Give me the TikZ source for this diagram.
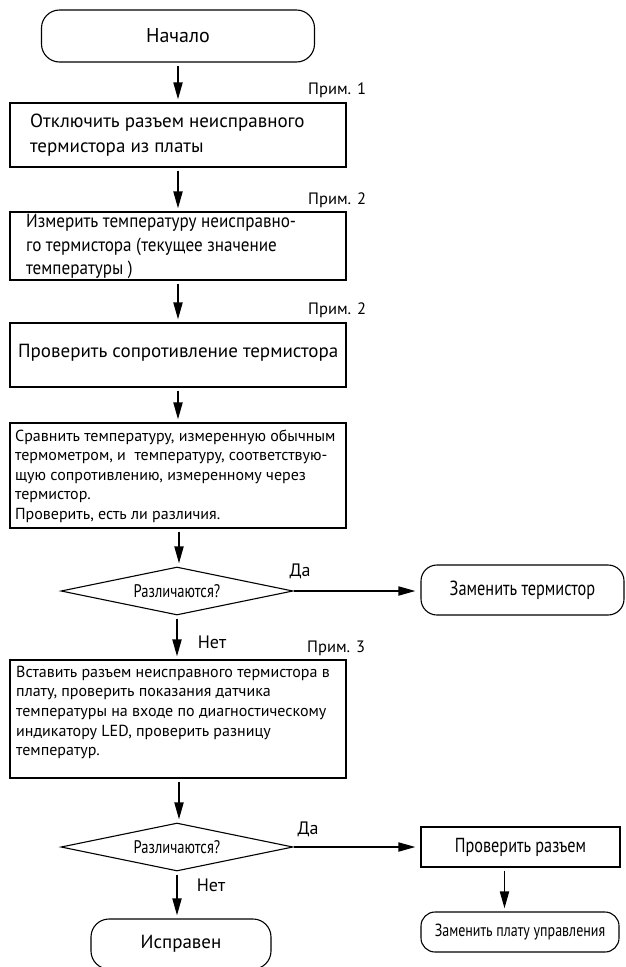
\documentclass[tikz,border=0pt]{standalone}
\usepackage{fontspec}
\setmainfont{PT Sans}
\newfontfamily\condfont[FakeStretch=0.8]{PT Sans}
\newfontfamily\semicond[FakeStretch=0.9]{PT Sans}
\usetikzlibrary{arrows.meta,shapes.geometric}
\begin{document}
\begin{tikzpicture}[x=1pt,y=-1pt,
  box/.style={draw, line width=1.1pt, rectangle, inner sep=0pt},
  term/.style={draw, line width=1.1pt, rectangle, rounded corners=18pt, inner sep=0pt},
  dec/.style={draw, line width=1.1pt, diamond, aspect=4.85, inner sep=0pt, minimum width=232pt, minimum height=48pt},
  big/.style={font=\fontsize{19}{24.3}\selectfont, align=left, inner sep=0pt},
  small/.style={font=\fontsize{16}{19.6}\selectfont, align=left, inner sep=0pt},
  note/.style={font=\fontsize{16.5}{20}\selectfont, inner sep=0pt, anchor=west},
  yn/.style={font=\fontsize{18}{20}\selectfont, inner sep=0pt},
  arr/.style={line width=1.8pt, -{Triangle[length=17pt,width=9pt]}, shorten <=3pt, shorten >=3pt}
]
\clip (0,0) rectangle (625,967);
% terminals and boxes
\node[term, minimum width=273pt, minimum height=52pt, font=\fontsize{20}{22}\selectfont] (start) at (178,36) {Начало};
\node[box, minimum width=336pt, minimum height=64pt] (b1) at (178,135) {};
\node[big, anchor=west] (t1) at (30,135) {Отключить разъем неисправного\\термистора из платы};
\node[box, minimum width=336pt, minimum height=68pt] (b2) at (178,246) {};
\node[big, anchor=west, font=\semicond\fontsize{19}{23.5}\selectfont] (t2) at (26,246.5) {Измерить температуру неисправно-\\го термистора (текущее значение\\температуры )};
\node[box, minimum width=336pt, minimum height=64pt] (b3) at (178,355) {};
\node[big, anchor=west] (t3) at (18,353) {Проверить сопротивление термистора};
\node[box, minimum width=336pt, minimum height=105pt] (b4) at (178,475.5) {};
\node[small, anchor=west] (t4) at (15,476) {Сравнить температуру, измеренную обычным\\термометром, и\ \ температуру, соответствую-\\щую сопротивлению, измеренному через\\термистор.\\Проверить, есть ли различия.};
\node[dec, font=\condfont\fontsize{18.2}{20}\selectfont] (d1) at (177,591) {Различаются?};
\node[term, rounded corners=16pt, minimum width=203pt, minimum height=50pt, font=\condfont\fontsize{20.4}{22}\selectfont] (rt) at (522.5,590) {Заменить термистор};
\node[box, minimum width=336pt, minimum height=118pt] (b5) at (178,719) {};
\node[small, anchor=west] (t5) at (16,712.5) {Вставить разъем неисправного термистора в\\плату, проверить показания датчика\\температуры на входе по диагностическому\\индикатору LED, проверить разницу\\температур.};
\node[dec, font=\condfont\fontsize{18.2}{20}\selectfont] (d2) at (177,847) {Различаются?};
\node[box, minimum width=199pt, minimum height=40pt, font=\condfont\fontsize{20.3}{22}\selectfont] (chk) at (520.5,847) {Проверить разъем};
\node[term, rounded corners=14pt, minimum width=198pt, minimum height=40pt, font=\condfont\fontsize{17.5}{19}\selectfont] (rb) at (520,932) {Заменить плату управления};
\node[term, minimum width=180pt, minimum height=50pt, font=\fontsize{19}{21}\selectfont] (ok) at (181,944) {Исправен};
% notes
\node[note] (n1) at (308,90) {Прим. 1};
\node[note] (n2) at (308,200) {Прим. 2};
\node[note] (n3) at (308,310) {Прим. 2};
\node[note] (n4) at (307,648) {Прим. 3};
\node[yn] (y1) at (300,571) {Да};
\node[yn] (y2) at (308,829) {Да};
\node[yn] (no1) at (212,642) {Нет};
\node[yn] (no2) at (211,885) {Нет};
% connectors
\draw[arr] (start) -- (b1);
\draw[arr] (b1) -- (b2);
\draw[arr] (b2) -- (b3);
\draw[arr] (b3) -- (b4);
\draw[arr] ([xshift=1pt]b4.south) -- ([xshift=1pt]b4.south |- d1.north);
\draw[arr, shorten <=0pt, shorten >=5pt] (d1.east) -- (d1.east -| rt.west);
\draw[arr] (d1.south) -- (d1.south |- b5.north);
\draw[arr] ([xshift=1pt]b5.south) -- ([xshift=1pt]b5.south |- d2.north);
\draw[arr, shorten <=0pt, shorten >=5pt] (d2.east) -- (d2.east -| chk.west);
\draw[arr] (d2.south) -- (d2.south |- ok.north);
\draw[arr] ([xshift=-16pt]chk.south) -- ([xshift=-16pt]chk.south |- rb.north);
\end{tikzpicture}
\end{document}
